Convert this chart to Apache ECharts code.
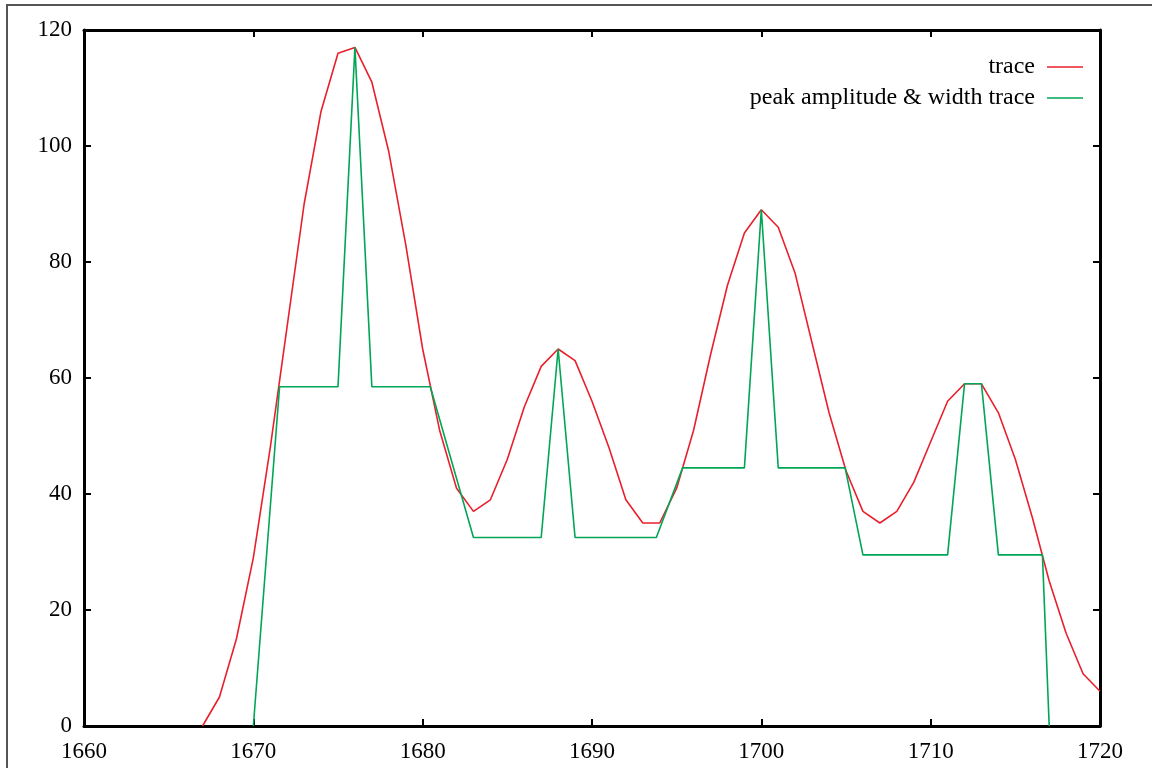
<!DOCTYPE html>
<html>
<head>
<meta charset="utf-8">
<script src="https://cdn.jsdelivr.net/npm/echarts@6/dist/echarts.min.js"></script>
<style>
  html, body { margin: 0; padding: 0; background: #fff; }
  #chart { width: 1152px; height: 768px; }
</style>
</head>
<body>
<div id="chart"></div>
<script>
// trace samples
var traceX = [1667, 1668, 1669, 1670, 1671, 1672, 1673, 1674, 1675, 1676, 1677, 1678, 1679, 1680,
  1681, 1682, 1683, 1684, 1685, 1686, 1687, 1688, 1689, 1690, 1691, 1692, 1693, 1694, 1695,
  1696, 1697, 1698, 1699, 1700, 1701, 1702, 1703, 1704, 1705, 1706, 1707, 1708, 1709, 1710,
  1711, 1712, 1713, 1714, 1715, 1716, 1717, 1718, 1719, 1720];
var traceY = [0, 5, 15, 29, 48, 69, 90, 106, 116, 117, 111, 99, 83, 65,
  51, 41, 37, 39, 46, 55, 62, 65, 63, 56, 48, 39, 35, 35, 41,
  51, 64, 76, 85, 89, 86, 78, 66, 54, 44, 37, 35, 37, 42, 49,
  56, 59, 59, 54, 46, 36, 25, 16, 9, 6];

// peak amplitude & width trace
var peakX = [1670, 1671.55, 1675, 1676, 1677, 1680.45, 1683, 1687, 1688, 1689, 1693.8, 1695.35,
  1699, 1700, 1701, 1704.95, 1706, 1711, 1712, 1713, 1714, 1716.6, 1717];
var peakY = [0, 58.5, 58.5, 117, 58.5, 58.5, 32.5, 32.5, 65, 32.5, 32.5, 44.5,
  44.5, 89, 44.5, 44.5, 29.5, 29.5, 59, 59, 29.5, 29.5, 0];

var xTicks = [1660, 1720, 10];
var yTicks = [0, 120, 20];

function zip(xs, ys) {
  return xs.map(function (x, i) { return [x, ys[i]]; });
}

var font = "'Liberation Serif', 'Times New Roman', serif";
var chart = echarts.init(document.getElementById('chart'));

var axisBase = {
  type: 'value',
  splitLine: { show: false },
  axisLine: { show: true, onZero: false, lineStyle: { color: '#000', width: 3 } },
  axisTick: { show: true, inside: true, length: 7, lineStyle: { color: '#000', width: 2 } }
};

function xAxis(pos, showLabel) {
  return Object.assign({}, axisBase, {
    position: pos, min: xTicks[0], max: xTicks[1], interval: xTicks[2],
    axisLabel: { show: showLabel, color: '#000', fontFamily: font, fontSize: 23, margin: 14,
      formatter: function (v) { return String(v); } }
  });
}
function yAxis(pos, showLabel) {
  return Object.assign({}, axisBase, {
    position: pos, min: yTicks[0], max: yTicks[1], interval: yTicks[2],
    axisLabel: { show: showLabel, color: '#000', fontFamily: font, fontSize: 23, margin: 12 }
  });
}

var option = {
  animation: false,
  backgroundColor: '#fff',
  grid: { left: 84, right: 52, top: 30, bottom: 42 },
  graphic: [{
    type: 'rect',
    shape: { x: 7, y: 5, width: 1170, height: 790 },
    style: { fill: 'none', stroke: '#555', lineWidth: 2 },
    silent: true
  }],
  legend: {
    orient: 'vertical',
    right: 64,
    top: 50,
    align: 'right',
    icon: 'rect',
    itemWidth: 36,
    itemHeight: 1.5,
    itemGap: 7,
    textStyle: { color: '#000', fontFamily: font, fontSize: 24, padding: [0, 7, 0, 0] },
    data: ['trace', 'peak amplitude & width trace']
  },
  xAxis: [xAxis('bottom', true), xAxis('top', false)],
  yAxis: [yAxis('left', true), yAxis('right', false)],
  series: [
    {
      name: 'trace',
      type: 'line',
      data: zip(traceX, traceY),
      symbol: 'none',
      lineStyle: { color: '#e8202c', width: 1.6 },
      itemStyle: { color: '#e8202c' }
    },
    {
      name: 'peak amplitude & width trace',
      type: 'line',
      data: zip(peakX, peakY),
      symbol: 'none',
      lineStyle: { color: '#00a656', width: 1.6 },
      itemStyle: { color: '#00a656' }
    }
  ]
};
chart.setOption(option);
</script>
</body>
</html>
